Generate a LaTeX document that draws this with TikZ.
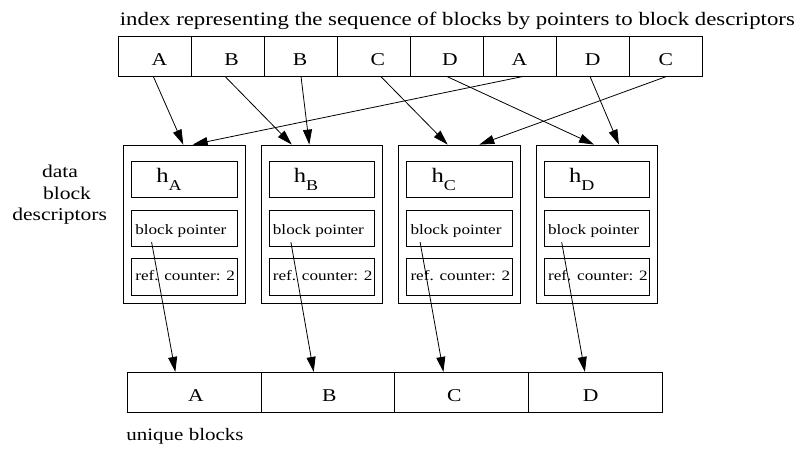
\documentclass[tikz,border=0pt]{standalone}
\usepackage{fontspec}
\setmainfont[FakeStretch=1.2]{Liberation Serif}
\usetikzlibrary{arrows.meta,calc}

\begin{document}
\begin{tikzpicture}[x=1pt,y=-1pt,
  line width=0.8pt,
  cell/.style={draw, inner sep=0pt, minimum width=73pt, minimum height=40pt},
  ublock/.style={draw, inner sep=0pt, minimum width=133.75pt, minimum height=40pt},
  descbox/.style={draw, inner sep=0pt, minimum width=121.7pt, minimum height=158.3pt},
  field/.style={draw, inner sep=0pt, minimum width=105.7pt, minimum height=36.7pt},
  bigtext/.style={inner sep=0pt, anchor=base, font=\fontsize{18}{20}\selectfont},
  smalltext/.style={inner sep=0pt, anchor=base west, font=\fontsize{14.3}{16}\selectfont},
  arr/.style={-{Triangle[length=15pt,width=9pt]}}
]
\useasboundingbox (0,0) rectangle (798,448);

% caption of the index row
\node[bigtext, anchor=base west, font=\fontsize{19}{20}\selectfont] (title) at (119.5,25)
  {index representing the sequence of blocks by pointers to block descriptors};

% index row: pointers to the descriptors
\foreach \i/\L/\lx in {1/A/159.3, 2/B/231.7, 3/B/300, 4/C/377.7,
                       5/D/450, 6/A/519.3, 7/D/592.7, 8/C/665.7} {
  \node[cell] (t\i) at ({155+73*(\i-1)},56) {};
  \node[bigtext] (tl\i) at (\lx,65) {\L};
}

% side caption of the descriptors
\node[bigtext] (cap1) at (60,177.7) {data};
\node[bigtext] (cap2) at (67,199) {block};
\node[bigtext] (cap3) at (59.7,220.5) {descriptors};

% data block descriptors
\foreach \i/\L in {1/A, 2/B, 3/C, 4/D} {
  \pgfmathsetmacro\cx{184.15+137.6*(\i-1)}
  \node[descbox] (d\i) at (\cx,224.15) {};
  \node[field] (h\i) at (\cx,179.35) {};
  \node[field] (p\i) at (\cx,228.35) {};
  \node[field] (r\i) at (\cx,276.65) {};
  \node[inner sep=0pt, anchor=base west] (hl\i) at ($(h\i.south west)+(25,-16)$)
    {\fontsize{20.5}{22}\selectfont h\raisebox{-8.3pt}{\fontsize{15}{16}\selectfont \L}};
  \node[smalltext] (pl\i) at ($(p\i.south west)+(4,-12.4)$) {block pointer};
  \node[smalltext] (rl\i) at ($(r\i.south west)+(4,-15)$) {ref. counter: 2};
}

% unique blocks
\foreach \i/\L/\lx in {1/A/196, 2/B/329.3, 3/C/454.3, 4/D/590.7} {
  \node[ublock] (u\i) at ({194.2+133.75*(\i-1)},392.3) {};
  \node[bigtext] (ul\i) at (\lx,401.7) {\L};
}
\node[bigtext, anchor=base west, font=\fontsize{17.5}{20}\selectfont] (ucap) at (126,440) {unique blocks};

% index entries to descriptors
\draw[arr] ($(t1.south)+(-1.7,0)$) -- ($(d1.north)+(-0.85,0)$);
\draw[arr] ($(t2.south)+(-3,0)$)   -- ($(d2.north)+(-30,0)$);
\draw[arr] ($(t3.south)+(0,0)$)    -- ($(d2.north)+(-12.45,0)$);
\draw[arr] ($(t4.south)+(6.7,0)$)  -- ($(d3.north)+(-11.65,0)$);
\draw[arr] ($(t5.south)+(-0.3,0)$) -- ($(d4.north)+(-2.95,0)$);
\draw[arr] ($(t6.south)+(3.3,0)$)  -- ($(d1.north)+(8.55,0)$);
\draw[arr] ($(t7.south)+(-3,0)$)   -- ($(d4.north)+(22,0)$);
\draw[arr] ($(t8.south)+(0.7,0)$)  -- ($(d3.north)+(19.95,0)$);

% block pointers to unique blocks
\draw[arr] ($(p1.south west)+(20.7,-5)$) -- ($(u1.north west)+(48.4,0)$);
\draw[arr] ($(p2.south west)+(22.4,-5)$) -- ($(u2.north west)+(53,0)$);
\draw[arr] ($(p3.south west)+(14,-5)$)   -- ($(u3.north west)+(49,0)$);
\draw[arr] ($(p4.south west)+(18,-5)$)   -- ($(u4.north west)+(56.7,0)$);
\end{tikzpicture}
\end{document}
